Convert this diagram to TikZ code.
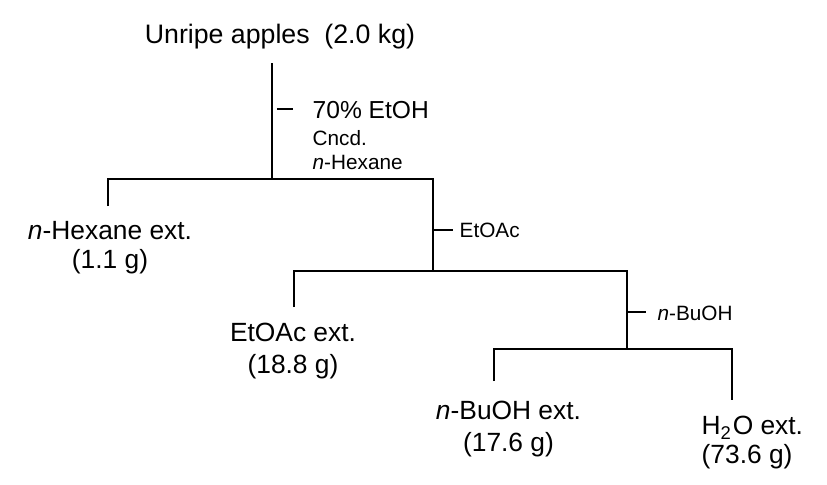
\documentclass[tikz,border=0pt]{standalone}
\usepackage{fontspec}
\setmainfont{Liberation Sans}
\usetikzlibrary{positioning}
\newcommand{\nn}{\textit{n}}

\begin{document}
\begin{tikzpicture}[
  br/.style={line width=0.7pt},
  big/.style={inner sep=0pt, font=\fontsize{7.6}{9.2}\selectfont},
  ext/.style={inner sep=0pt, align=center, font=\fontsize{7.5}{9.1}\selectfont},
  sm/.style={inner sep=0pt, align=left, font=\fontsize{5.9}{6.8}\selectfont}]
  \useasboundingbox (0,0) rectangle (8.27,-4.84);
  \node[big, anchor=base] (apples) at (2.80,-0.43) {Unripe apples\ \ (2.0 kg)};
  \coordinate (r0) at (2.72,-0.63);
  \coordinate (r1) at (2.72,-1.79);
  \coordinate (t1a) at (2.77,-1.09);
  \coordinate (t1b) at (2.93,-1.09);
  \node[big, font=\fontsize{7.0}{8.4}\selectfont, anchor=base west] (etoh) at (3.12,-1.18) {70\% EtOH};
  \node[sm, anchor=base west] (cncd) at (3.12,-1.69) {Cncd.\\\nn-Hexane};
  \coordinate (a1) at (1.08,-1.79);
  \coordinate (a2) at (1.08,-2.06);
  \coordinate (b1) at (4.33,-1.79);
  \coordinate (b2) at (4.33,-2.71);
  \coordinate (t2) at (4.53,-2.30);
  \node[sm, anchor=base west] (etoac) at (4.59,-2.37) {EtOAc};
  \node[ext, font=\fontsize{7.5}{8.2}\selectfont, anchor=base] (hexext) at (1.10,-2.68) {\nn-Hexane ext.\\(1.1 g)};
  \coordinate (c1) at (2.94,-2.71);
  \coordinate (c2) at (2.94,-3.07);
  \coordinate (d1) at (6.27,-2.71);
  \coordinate (d2) at (6.27,-3.49);
  \coordinate (t3) at (6.46,-3.12);
  \node[sm, anchor=base west] (buoh) at (6.57,-3.20) {\nn-BuOH};
  \node[ext, anchor=base] (acext) at (2.93,-3.73) {EtOAc ext.\\(18.8 g)};
  \coordinate (e1) at (4.94,-3.49);
  \coordinate (e2) at (4.94,-3.81);
  \coordinate (f1) at (7.32,-3.49);
  \coordinate (f2) at (7.32,-4.00);
  \node[ext, anchor=base] (buext) at (5.085,-4.51) {\nn-BuOH ext.\\(17.6 g)};
  \node[ext, align=left, font=\fontsize{7.5}{8}\selectfont, anchor=base west] (waext) at (7.01,-4.63) {H\textsubscript{2}O ext.\\(73.6 g)};
  \draw[br] (r0)--(r1); \draw[br] (t1a)--(t1b);
  \draw[br] (a2)--(a1)--(b1)--(b2); \draw[br] (b1|-t2)--(t2);
  \draw[br] (c2)--(c1)--(d1)--(d2); \draw[br] (d1|-t3)--(t3);
  \draw[br] (e2)--(e1)--(f1)--(f2);
\end{tikzpicture}
\end{document}
